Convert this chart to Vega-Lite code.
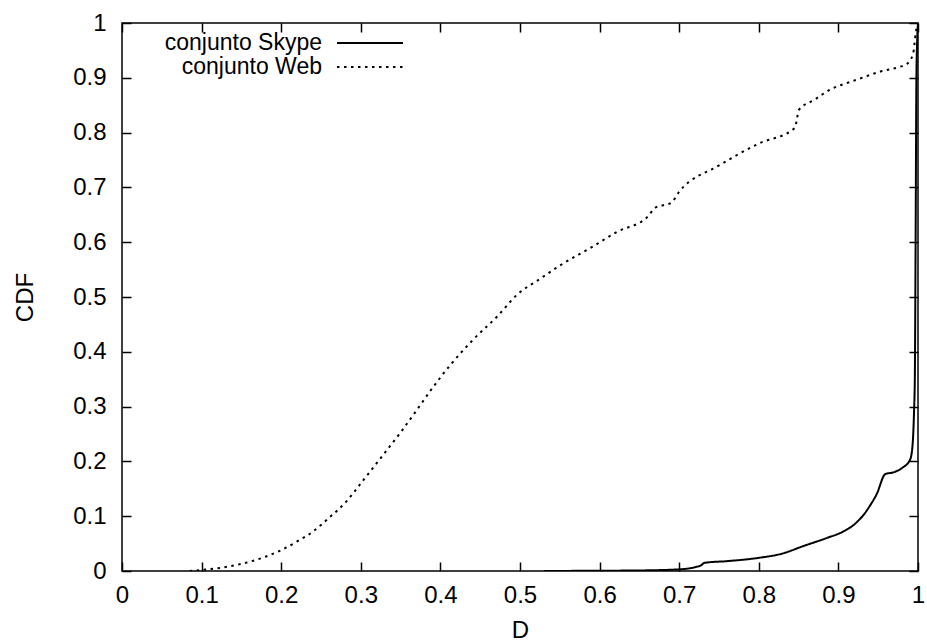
{
  "$schema": "https://vega.github.io/schema/vega-lite/v6.json",
  "width": 796,
  "height": 548,
  "autosize": {"type": "none"},
  "padding": {"left": 122, "top": 23, "right": 9, "bottom": 71},
  "background": "white",
  "config": {
    "view": {"stroke": "black", "strokeWidth": 1.5},
    "font": "Liberation Sans",
    "axis": {
      "grid": false,
      "domain": false,
      "tickColor": "black",
      "tickWidth": 1.5,
      "tickSize": -9,
      "labelFont": "Liberation Sans",
      "labelFontSize": 24,
      "labelColor": "black",
      "titleFont": "Liberation Sans",
      "titleFontSize": 24,
      "titleFontWeight": "normal",
      "titleColor": "black",
      "labelFlush": false,
      "labelOverlap": false
    }
  },
  "data": {
    "values": [
      {"series": "conjunto Skype", "D": 0.53, "CDF": 0.0},
      {"series": "conjunto Skype", "D": 0.6, "CDF": 0.0005},
      {"series": "conjunto Skype", "D": 0.65, "CDF": 0.001},
      {"series": "conjunto Skype", "D": 0.7, "CDF": 0.003},
      {"series": "conjunto Skype", "D": 0.72, "CDF": 0.007},
      {"series": "conjunto Skype", "D": 0.727, "CDF": 0.01},
      {"series": "conjunto Skype", "D": 0.732, "CDF": 0.015},
      {"series": "conjunto Skype", "D": 0.76, "CDF": 0.018},
      {"series": "conjunto Skype", "D": 0.8, "CDF": 0.024},
      {"series": "conjunto Skype", "D": 0.83, "CDF": 0.032},
      {"series": "conjunto Skype", "D": 0.855, "CDF": 0.045},
      {"series": "conjunto Skype", "D": 0.885, "CDF": 0.06},
      {"series": "conjunto Skype", "D": 0.906, "CDF": 0.072},
      {"series": "conjunto Skype", "D": 0.92, "CDF": 0.085},
      {"series": "conjunto Skype", "D": 0.933, "CDF": 0.105},
      {"series": "conjunto Skype", "D": 0.94, "CDF": 0.12},
      {"series": "conjunto Skype", "D": 0.948, "CDF": 0.14},
      {"series": "conjunto Skype", "D": 0.959, "CDF": 0.177},
      {"series": "conjunto Skype", "D": 0.969, "CDF": 0.18},
      {"series": "conjunto Skype", "D": 0.98, "CDF": 0.188},
      {"series": "conjunto Skype", "D": 0.99, "CDF": 0.203},
      {"series": "conjunto Skype", "D": 0.993, "CDF": 0.227},
      {"series": "conjunto Skype", "D": 0.995, "CDF": 0.29},
      {"series": "conjunto Skype", "D": 0.996, "CDF": 0.35},
      {"series": "conjunto Skype", "D": 0.997, "CDF": 0.6},
      {"series": "conjunto Skype", "D": 0.998, "CDF": 0.9},
      {"series": "conjunto Skype", "D": 0.999, "CDF": 0.97},
      {"series": "conjunto Skype", "D": 1.0, "CDF": 1.0},
      {"series": "conjunto Web", "D": 0.085, "CDF": 0.0},
      {"series": "conjunto Web", "D": 0.1, "CDF": 0.002},
      {"series": "conjunto Web", "D": 0.12, "CDF": 0.005},
      {"series": "conjunto Web", "D": 0.15, "CDF": 0.013},
      {"series": "conjunto Web", "D": 0.18, "CDF": 0.026},
      {"series": "conjunto Web", "D": 0.2, "CDF": 0.038},
      {"series": "conjunto Web", "D": 0.22, "CDF": 0.054},
      {"series": "conjunto Web", "D": 0.24, "CDF": 0.072},
      {"series": "conjunto Web", "D": 0.26, "CDF": 0.097},
      {"series": "conjunto Web", "D": 0.282, "CDF": 0.127},
      {"series": "conjunto Web", "D": 0.3, "CDF": 0.16},
      {"series": "conjunto Web", "D": 0.32, "CDF": 0.197},
      {"series": "conjunto Web", "D": 0.35, "CDF": 0.253},
      {"series": "conjunto Web", "D": 0.37, "CDF": 0.293},
      {"series": "conjunto Web", "D": 0.387, "CDF": 0.328},
      {"series": "conjunto Web", "D": 0.412, "CDF": 0.375},
      {"series": "conjunto Web", "D": 0.441, "CDF": 0.422},
      {"series": "conjunto Web", "D": 0.471, "CDF": 0.464},
      {"series": "conjunto Web", "D": 0.497, "CDF": 0.505},
      {"series": "conjunto Web", "D": 0.525, "CDF": 0.533},
      {"series": "conjunto Web", "D": 0.554, "CDF": 0.561},
      {"series": "conjunto Web", "D": 0.588, "CDF": 0.589},
      {"series": "conjunto Web", "D": 0.622, "CDF": 0.619},
      {"series": "conjunto Web", "D": 0.66, "CDF": 0.646},
      {"series": "conjunto Web", "D": 0.67, "CDF": 0.663},
      {"series": "conjunto Web", "D": 0.69, "CDF": 0.672},
      {"series": "conjunto Web", "D": 0.7, "CDF": 0.692},
      {"series": "conjunto Web", "D": 0.75, "CDF": 0.74},
      {"series": "conjunto Web", "D": 0.8, "CDF": 0.78},
      {"series": "conjunto Web", "D": 0.845, "CDF": 0.808},
      {"series": "conjunto Web", "D": 0.848, "CDF": 0.825},
      {"series": "conjunto Web", "D": 0.85, "CDF": 0.841},
      {"series": "conjunto Web", "D": 0.87, "CDF": 0.86},
      {"series": "conjunto Web", "D": 0.889, "CDF": 0.878},
      {"series": "conjunto Web", "D": 0.92, "CDF": 0.895},
      {"series": "conjunto Web", "D": 0.952, "CDF": 0.911},
      {"series": "conjunto Web", "D": 0.981, "CDF": 0.922},
      {"series": "conjunto Web", "D": 0.986, "CDF": 0.925},
      {"series": "conjunto Web", "D": 0.994, "CDF": 0.945},
      {"series": "conjunto Web", "D": 0.997, "CDF": 0.98},
      {"series": "conjunto Web", "D": 0.999, "CDF": 0.996},
      {"series": "conjunto Web", "D": 1.0, "CDF": 1.0}
    ]
  },
  "layer": [
    {
      "mark": {"type": "line", "color": "black", "strokeWidth": 2, "strokeCap": "butt", "interpolate": "monotone", "clip": true},
      "encoding": {
        "x": {
          "field": "D", "type": "quantitative",
          "scale": {"domain": [0, 1], "nice": false, "zero": false},
          "axis": {
            "orient": "bottom",
            "values": [0, 0.1, 0.2, 0.3, 0.4, 0.5, 0.6, 0.7, 0.8, 0.9, 1],
            "format": "~g",
            "labelPadding": 40,
            "labelBaseline": "alphabetic",
            "title": "D",
            "titleX": 398,
            "titleY": 66,
            "titleBaseline": "alphabetic",
            "titleAlign": "center"
          }
        },
        "y": {
          "field": "CDF", "type": "quantitative",
          "scale": {"domain": [0, 1], "nice": false, "zero": false},
          "axis": {
            "orient": "left",
            "values": [0, 0.1, 0.2, 0.3, 0.4, 0.5, 0.6, 0.7, 0.8, 0.9, 1],
            "format": "~g",
            "labelPadding": 25,
            "title": "CDF",
            "titleX": -90,
            "titleY": 274,
            "titleAngle": 270,
            "titleBaseline": "alphabetic",
            "titleAlign": "center"
          }
        },
        "strokeDash": {
          "field": "series", "type": "nominal",
          "scale": {"domain": ["conjunto Skype", "conjunto Web"], "range": [[1, 0], [2.5, 4.5]]},
          "legend": {
            "orient": "none",
            "legendX": 236,
            "legendY": 8,
            "title": null,
            "padding": 0,
            "rowPadding": 0,
            "symbolType": "M-3,0H3",
            "symbolSize": 484,
            "symbolStrokeWidth": 2,
            "symbolStrokeColor": "black",
            "symbolFillColor": "transparent",
            "labelAlign": "right",
            "labelOffset": -60,
            "labelFont": "Liberation Sans",
            "labelFontSize": 23,
            "labelColor": "black",
            "labelLimit": 400
          }
        }
      }
    },
    {
      "mark": {"type": "line", "opacity": 0},
      "encoding": {
        "x": {
          "field": "D", "type": "quantitative",
          "axis": {"orient": "top", "values": [0, 0.1, 0.2, 0.3, 0.4, 0.5, 0.6, 0.7, 0.8, 0.9, 1], "labels": false, "title": null}
        },
        "y": {
          "field": "CDF", "type": "quantitative",
          "axis": {"orient": "right", "values": [0, 0.1, 0.2, 0.3, 0.4, 0.5, 0.6, 0.7, 0.8, 0.9, 1], "labels": false, "title": null}
        },
        "detail": {"field": "series", "type": "nominal"}
      }
    }
  ]
}
